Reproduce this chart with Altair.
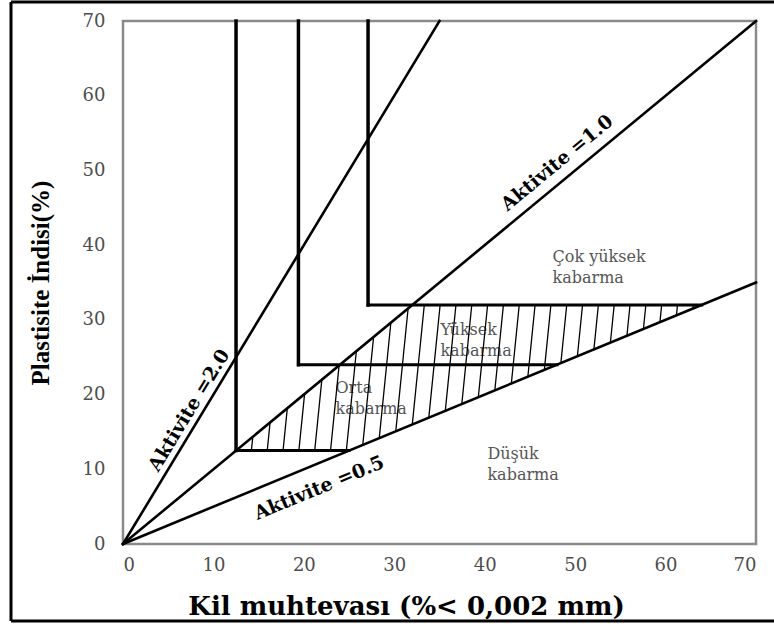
import math
import altair as alt
import pandas as pd

# ---- data ----
axis_max = 70
tick_values = [0, 10, 20, 30, 40, 50, 60, 70]

activity = [2.0, 1.0, 0.5]
activity_labels = ["Aktivite =2.0", "Aktivite =1.0", "Aktivite =0.5"]
activity_label_x = [7.3, 48.0, 21.7]
activity_label_y = [17.9, 51.0, 7.5]

zone_x = [12.5, 19.4, 27.1]     # vertical boundaries
zone_y = [12.5, 24.0, 32.0]     # horizontal boundaries

region_line1 = ["Çok yüksek", "Yüksek", "Orta", "Düşük"]
region_line2 = ["kabarma", "kabarma", "kabarma", "kabarma"]
region_x = [47.5, 35.1, 23.5, 40.3]
region_y = [38.4, 28.6, 20.9, 12.0]

# ---- layout ----
W, H = 633, 523
hatch_spacing = 1.75
hatch_start = 14.2
hatch_slant = 0.083

xs = alt.Scale(domain=[0, axis_max], nice=False, zero=False)
ys = alt.Scale(domain=[0, axis_max], nice=False, zero=False)

# activity lines from origin to the frame
act_rows = []
for a in activity:
    xe = min(axis_max, axis_max / a)
    act_rows.append({"x": 0, "y": 0, "x2": xe, "y2": a * xe})
act_df = pd.DataFrame(act_rows)

# zone boundary lines
low = min(activity)
v_rows, h_rows = [], []
for zx, zy in zip(zone_x, zone_y):
    v_rows.append({"x": zx, "y": zy, "x2": zx, "y2": axis_max})
    h_rows.append({"x": zx, "y": zy, "x2": zy / low, "y2": zy})
v_df = pd.DataFrame(v_rows)
h_df = pd.DataFrame(h_rows)

# hatch inside region between A=1.0 and A=0.5, from y=zone_y[0] to y=zone_y[-1]
ylo_lim, yhi_lim = zone_y[0], zone_y[-1]
hatch_rows = []
x0 = hatch_start
s = hatch_slant
while x0 < axis_max:
    y_low = (low * x0 - low * s * ylo_lim) / (1 - low * s)
    y_low = max(ylo_lim, y_low)
    y_up = (x0 - s * ylo_lim) / (1 - s)
    y_up = min(yhi_lim, y_up)
    if y_up - y_low > 0.2:
        hatch_rows.append({
            "x": x0 + s * (y_low - ylo_lim), "y": y_low,
            "x2": x0 + s * (y_up - ylo_lim), "y2": y_up,
        })
    x0 += hatch_spacing
hatch_df = pd.DataFrame(hatch_rows)

lab_df = pd.DataFrame({
    "x": activity_label_x, "y": activity_label_y, "t": activity_labels,
    "angle": [360 - math.degrees(math.atan(a * H / W)) for a in activity],
})
reg_df = pd.DataFrame({"x": region_x, "y": region_y, "l1": region_line1, "l2": region_line2})

def seg(df, width, color="black"):
    return alt.Chart(df).mark_rule(strokeWidth=width, color=color, strokeCap="square").encode(
        x=alt.X("x:Q", scale=xs), y=alt.Y("y:Q", scale=ys), x2="x2:Q", y2="y2:Q")

base_axes = alt.Chart(pd.DataFrame({"x": [0], "y": [0]})).mark_point(opacity=0).encode(
    x=alt.X("x:Q", scale=xs, title="Kil muhtevası (%< 0,002 mm)",
            axis=alt.Axis(values=tick_values, grid=False, ticks=False, domain=False,
                          labelFont="DejaVu Serif", labelFontSize=18, labelColor="#4d4d4d",
                          labelPadding=12, titleFont="DejaVu Serif", titleFontSize=26,
                          titleFontWeight="bold", titleColor="black",
                          titleX=283, titleY=70, titleAlign="center",
                          titleBaseline="alphabetic")),
    y=alt.Y("y:Q", scale=ys, title="Plastisite İndisi(%)",
            axis=alt.Axis(values=tick_values, grid=False, ticks=False, domain=False,
                          labelFont="DejaVu Serif", labelFontSize=18, labelColor="#4d4d4d",
                          labelPadding=18, titleFont="Liberation Serif", titleFontSize=25,
                          titleFontWeight="bold", titleColor="black", titlePadding=29)),
)

reg1 = alt.Chart(reg_df).mark_text(font="DejaVu Serif", fontSize=16, color="#555",
                                   align="left", baseline="middle").encode(
    x=alt.X("x:Q", scale=xs), y=alt.Y("y:Q", scale=ys), text="l1:N")
reg2 = alt.Chart(reg_df).mark_text(font="DejaVu Serif", fontSize=16, color="#555",
                                   align="left", baseline="middle", dy=21).encode(
    x=alt.X("x:Q", scale=xs), y=alt.Y("y:Q", scale=ys), text="l2:N")

labels = alt.Chart(lab_df).mark_text(font="DejaVu Serif", fontSize=19, fontWeight="bold",
                                     color="black", align="center", baseline="middle").encode(
    x=alt.X("x:Q", scale=xs), y=alt.Y("y:Q", scale=ys), text="t:N",
    angle=alt.Angle("angle:Q", scale=None))

one = pd.DataFrame({"a": [0]})
frame_left = alt.Chart(one).mark_rule(color="black", strokeWidth=3).encode(
    x=alt.value(-112), y=alt.value(-19), y2=alt.value(600))
frame_top = alt.Chart(one).mark_rule(color="black", strokeWidth=3).encode(
    x=alt.value(-112), x2=alt.value(660), y=alt.value(-19))
frame_bot = alt.Chart(one).mark_rule(color="black", strokeWidth=3).encode(
    x=alt.value(-112), x2=alt.value(660), y=alt.value(600))

chart = alt.layer(
    base_axes, reg1, reg2,
    seg(hatch_df, 1.3),
    seg(act_df, 2.6),
    seg(v_df, 3.5),
    seg(h_df, 3.0),
    labels,
    frame_left, frame_top, frame_bot,
).properties(
    width=W, height=H,
    autosize=alt.AutoSizeParams(type="none"),
    padding={"left": 123, "top": 21, "right": 18, "bottom": 84},
    background="white",
).configure_view(stroke="#8a8a8a", strokeWidth=2.5)

chart.save("out.html", embed_options={"renderer": "svg", "actions": False})
